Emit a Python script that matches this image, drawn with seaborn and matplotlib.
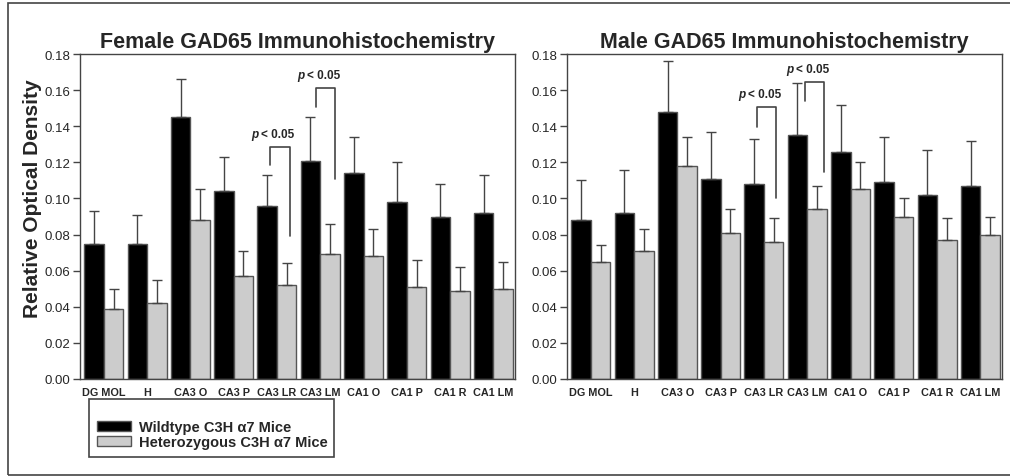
import numpy as np
import pandas as pd
import matplotlib
matplotlib.use("Agg")
import matplotlib.pyplot as plt
from matplotlib.patches import Rectangle, Patch
from matplotlib.transforms import offset_copy
import seaborn as sns

regions = ["DG MOL", "H", "CA3 O", "CA3 P", "CA3 LR", "CA3 LM", "CA1 O", "CA1 P", "CA1 R", "CA1 LM"]
groups = ["Wildtype C3H \u03b17 Mice", "Heterozygous C3H \u03b17 Mice"]

# female: means and error-bar tops
female_wt = [0.075, 0.075, 0.145, 0.104, 0.096, 0.121, 0.114, 0.098, 0.090, 0.092]
female_wt_top = [0.093, 0.091, 0.166, 0.123, 0.113, 0.145, 0.134, 0.120, 0.108, 0.113]
female_het = [0.039, 0.042, 0.088, 0.057, 0.052, 0.069, 0.068, 0.051, 0.049, 0.050]
female_het_top = [0.050, 0.055, 0.105, 0.071, 0.064, 0.086, 0.083, 0.066, 0.062, 0.065]

# male
male_wt = [0.088, 0.092, 0.148, 0.111, 0.108, 0.135, 0.126, 0.109, 0.102, 0.107]
male_wt_top = [0.110, 0.116, 0.176, 0.137, 0.133, 0.164, 0.152, 0.134, 0.127, 0.132]
male_het = [0.065, 0.071, 0.118, 0.081, 0.076, 0.094, 0.105, 0.090, 0.077, 0.080]
male_het_top = [0.074, 0.083, 0.134, 0.094, 0.089, 0.107, 0.120, 0.100, 0.089, 0.090]

# significance brackets: (region index, left x off, right x off, left bottom, top, right bottom)
female_brackets = [(4, -0.155, 0.30, 0.1185, 0.1285, 0.079),
                   (5, -0.10, 0.34, 0.1506, 0.161, 0.111)]
male_brackets = [(4, -0.16, 0.27, 0.1396, 0.1506, 0.1002),
                 (5, -0.045, 0.377, 0.154, 0.1645, 0.1146)]

sns.set_style("white")
plt.rcParams["font.family"] = ["Liberation Sans", "DejaVu Sans"]

colors = {groups[0]: "black", groups[1]: "#cccccc"}


def make_df(wt, het):
    return pd.DataFrame({
        "region": regions * 2,
        "group": [groups[0]] * len(regions) + [groups[1]] * len(regions),
        "value": list(wt) + list(het),
    })


def draw_panel(ax, wt, wt_top, het, het_top, brackets, title):
    df = make_df(wt, het)
    sns.barplot(data=df, x="region", y="value", hue="group", hue_order=groups,
                palette=colors, width=0.9, errorbar=None, ax=ax, legend=False,
                edgecolor="#555555", linewidth=1)
    for cont, tops in zip(ax.containers, [wt_top, het_top]):
        xs = [p.get_x() + p.get_width() / 2 for p in cont]
        hs = [p.get_height() for p in cont]
        lower = np.zeros(len(hs))
        upper = np.array(tops) - np.array(hs)
        ax.errorbar(xs, hs, yerr=[lower, upper], fmt="none", ecolor="#444444",
                    elinewidth=1, capsize=3.5, capthick=1, zorder=1)
    for i, lo, ro, lb, top, rb in brackets:
        ax.plot([i + lo, i + lo, i + ro, i + ro], [lb, top, top, rb],
                color="#444444", lw=1.2)
        xc = i + lo + 0.05
        ax.text(xc, top + 0.004, "p", ha="right", va="bottom", fontsize=8.5,
                fontweight="bold", style="italic",
                transform=offset_copy(ax.transData, fig=ax.figure, x=-14, y=0, units="dots"))
        ax.text(xc, top + 0.004, "< 0.05", ha="left", va="bottom", fontsize=8.5,
                fontweight="bold",
                transform=offset_copy(ax.transData, fig=ax.figure, x=-11, y=0, units="dots"))
    ax.set_xlim(-0.55, 9.5)
    ax.set_ylim(0, 0.18)
    ticks = np.arange(0, 0.181, 0.02)
    ax.set_yticks(ticks)
    ax.set_yticklabels([f"{v:.2f}" for v in ticks], fontsize=9.5)
    ax.set_xticks(range(len(regions)))
    ax.set_xticklabels(regions, fontsize=7.8, fontweight="bold")
    ax.tick_params(axis="y", left=True, length=5, width=1, color="#444444", pad=2)
    ax.tick_params(axis="x", bottom=False, pad=2)
    ax.set_xlabel("")
    ax.set_ylabel("")
    for s in ax.spines.values():
        s.set_color("#444444")
        s.set_linewidth(1)
    ax.set_title(title, fontsize=15.5, fontweight="bold", pad=5)


fig = plt.figure(figsize=(10.1, 4.77), dpi=100)
ax1 = fig.add_axes([80 / 1010, 1 - 380 / 477, 435 / 1010, 325 / 477])
ax2 = fig.add_axes([567 / 1010, 1 - 380 / 477, 435 / 1010, 325 / 477])

draw_panel(ax1, female_wt, female_wt_top, female_het, female_het_top,
           female_brackets, "Female GAD65 Immunohistochemistry")
draw_panel(ax2, male_wt, male_wt_top, male_het, male_het_top,
           male_brackets, "Male GAD65 Immunohistochemistry")

fig.text(33 / 1010, 1 - 199 / 477, "Relative Optical Density", rotation=90,
         ha="center", va="center", fontsize=15, fontweight="bold")

# legend entries without frame, box drawn separately
handles = [Patch(facecolor=colors[g], edgecolor="#555555") for g in groups]
fig.legend(handles, groups, loc="upper left",
           bbox_to_anchor=(97 / 1010, 1 - 421 / 477),
           frameon=False, prop={"weight": "bold", "size": 10.5},
           handlelength=2.35, handleheight=0.7, handletextpad=0.55,
           labelspacing=0.1, borderaxespad=0, borderpad=0)
fig.patches.append(Rectangle((89 / 1010, 1 - 458 / 477), 245 / 1010, 58 / 477,
                             transform=fig.transFigure, fill=False,
                             edgecolor="#444444", linewidth=1.2))

fig.patches.append(Rectangle((8 / 1010, 1 / 477), 1.1, 472 / 477, transform=fig.transFigure,
                             fill=False, edgecolor="#444444", linewidth=1.2))

fig.savefig("out.png", dpi=100, facecolor="white")
